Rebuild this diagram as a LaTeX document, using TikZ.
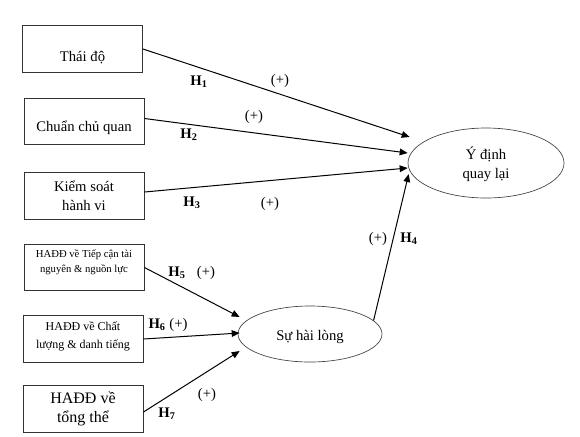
\documentclass[tikz,border=0pt]{standalone}
\usepackage{fontspec}
\setmainfont{Liberation Serif}
\usetikzlibrary{shapes.geometric,arrows.meta,calc}
\tikzset{
  box/.style={draw=black!80,line width=0.7pt,minimum width=90pt,minimum height=35pt,inner sep=0pt},
  oval/.style={draw=black!75,line width=0.5pt,ellipse,inner sep=0pt},
  txt/.style={inner sep=0pt,align=center,font=\fontsize{11}{14}\selectfont},
  lab/.style={inner sep=0pt,font=\fontsize{11}{13}\selectfont},
  arr/.style={line width=0.75pt,-{Triangle[length=6pt,width=5pt]}}
}
\newcommand{\hyp}[1]{\textbf{H\textsubscript{#1}}}
\begin{document}
\begin{tikzpicture}[x=0.75pt,y=-0.75pt]
\useasboundingbox (0,0) rectangle (580,436);
% boxes
\node[box] (a) at (82.5,49) {};
\node[txt] (at) at (82.5,58) {Thái độ};
\node[box] (b) at (84,121.5) {};
\node[txt] (bt) at (84,128) {Chuẩn chủ quan};
\node[box] (c) at (84,196) {};
\node[txt] (ct) at (84,196) {Kiểm soát\\hành vi};
\node[box] (d) at (84,267.5) {};
\node[txt,font=\fontsize{8}{11}\selectfont] (dt) at (84,262) {HAĐĐ về Tiếp cận tài\\nguyên \& nguồn lực};
\node[box] (e) at (83,339) {};
\node[txt,font=\fontsize{9}{13.5}\selectfont] (et) at (83,336) {HAĐĐ về Chất\\lượng \& danh tiếng};
\node[box] (f) at (83,409) {};
\node[txt,font=\fontsize{12}{14.5}\selectfont] (ft) at (83,409) {HAĐĐ về\\tổng thể};
% ellipses
\node[oval,minimum width=117pt,minimum height=52.5pt] (y) at (486,163) {};
\node[txt] (yt) at (486,164) {Ý định\\quay lại};
\node[oval,minimum width=108pt,minimum height=42pt] (s) at (310,334) {};
\node[txt] (st) at (310,337) {Sự hài lòng};
% targets
\coordinate (y1) at ($(y.west)+(2,-26)$);
\coordinate (y2) at ($(y.west)+(0,-10)$);
\coordinate (y3) at ($(y.west)+(0,5)$);
\coordinate (y4) at ($(y.west)+(1,11)$);
\coordinate (s1) at ($(s.west)+(2,-17)$);
\coordinate (s2) at ($(s.west)+(2,-1)$);
\coordinate (s3) at ($(s.west)+(2,17)$);
% arrows
\draw[arr] (a.east) -- (y1);
\draw[arr] ($(b.east)+(0,-3)$) -- (y2);
\draw[arr] ($(c.east)+(0,-4)$) -- (y3);
\draw[arr] (s.12) -- (y4);
\draw[arr] (d.east) -- (s1);
\draw[arr] (e.east) -- (s2);
\draw[arr] ($(f.east)+(0,3)$) -- (s3);
% labels
\node[lab] (h1) at (199,82) {\hyp{1}};
\node[lab] (p1) at (280,81) {(+)};
\node[lab] (p2) at (254,117) {(+)};
\node[lab] (h2) at (189,135) {\hyp{2}};
\node[lab] (h3) at (192,203) {\hyp{3}};
\node[lab] (p3) at (270,204) {(+)};
\node[lab] (p4) at (378,239) {(+)};
\node[lab] (h4) at (409,239) {\hyp{4}};
\node[lab] (h5) at (177,273) {\hyp{5}};
\node[lab] (p5) at (206,273) {(+)};
\node[lab] (h6) at (168,325) {\hyp{6} (+)};
\node[lab] (p7) at (207,395) {(+)};
\node[lab] (h7) at (167,414) {\hyp{7}};
\end{tikzpicture}
\end{document}
